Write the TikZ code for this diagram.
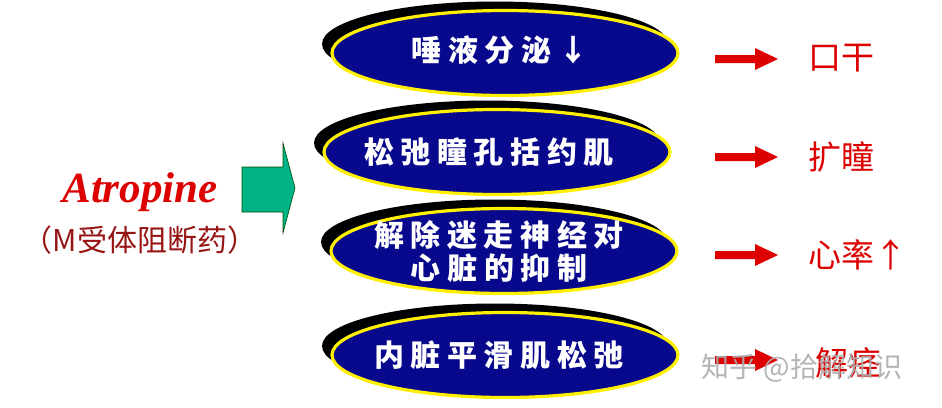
\documentclass[tikz,border=0pt]{standalone}
\usepackage{fontspec}
\setmainfont{Liberation Serif}
\newfontfamily\cjk{Noto Sans CJK SC}
\newfontfamily\ovalfont[LetterSpace=22]{Noto Sans CJK SC}
\usepackage{tikz}
\usetikzlibrary{shapes.geometric}
\definecolor{ovalblue}{RGB}{8,8,140}
\definecolor{ovalyellow}{RGB}{255,240,0}
\definecolor{drugred}{RGB}{220,0,0}
\definecolor{notered}{RGB}{150,20,20}
\definecolor{greenarrow}{RGB}{0,180,135}
\tikzstyle{oval} = [ellipse,fill=ovalblue,draw=ovalyellow,line width=3.2pt,minimum width=346pt,minimum height=85pt,inner sep=0pt]
\tikzstyle{ovalshadow} = [ellipse,fill=black,minimum width=346pt,minimum height=85pt,inner sep=0pt]
\tikzstyle{ovaltext} = [text=white,font=\ovalfont\bfseries\fontsize{30}{33}\selectfont,align=center]
\tikzstyle{effect} = [text=drugred,font=\cjk\fontsize{33}{36}\selectfont,anchor=west]
\tikzstyle{redarr} = [fill=drugred]

\begin{document}
\begin{tikzpicture}[x=1pt,y=-1pt]
            \useasboundingbox (0,0) rectangle (942,407);
            % drug name
            \node[anchor=base,text=drugred,font=\bfseries\itshape\fontsize{43}{46}\selectfont] (drug) at (140,202) {Atropine};
            \node[text=notered,font=\cjk\fontsize{30}{33}\selectfont] (class) at (140,240) {（M受体阻断药）};
            \filldraw[draw=black!70!green,fill=greenarrow,line width=0.6pt] (242,167) -- (283,167) -- (283,143) -- (295,188) -- (283,233) -- (283,212) -- (242,212) -- cycle;
            % the four effects
            \node[ovalshadow] (s1) at (495,44) {};
            \node[oval] (o1) at (505,53) {};
            \node[ovaltext] (t1) at (500,50) {唾液分泌↓};
            \node[ovalshadow] (s2) at (487,143) {};
            \node[oval] (o2) at (497,152) {};
            \node[ovaltext] (t2) at (489,152) {松弛瞳孔括约肌};
            \node[ovalshadow] (s3) at (494,242) {};
            \node[oval] (o3) at (504,251) {};
            \node[ovaltext] (t3) at (499,251) {解除迷走神经对\\心脏的抑制};
            \node[ovalshadow] (s4) at (495,346) {};
            \node[oval] (o4) at (505,355) {};
            \node[ovaltext] (t4) at (499,355) {内脏平滑肌松弛};
            \foreach \y in {59,157,255,360}
                \fill[redarr] (715,\y-4) -- (755,\y-4) -- (755,\y-11) -- (778,\y) -- (755,\y+11) -- (755,\y+4) -- (715,\y+4) -- cycle;
            \node[effect] (e1) at (805,58) {口干};
            \node[effect] (e2) at (805,157) {扩瞳};
            \node[effect] (e3) at (805,255) {心率↑};
            \node[effect] (e4) at (812,363) {解痉};
            \node[text=gray!65,opacity=0.9,font=\cjk\fontsize{28}{32}\selectfont] (mark) at (802,368) {知乎 @拾解知识};
        \end{tikzpicture}
\end{document}
